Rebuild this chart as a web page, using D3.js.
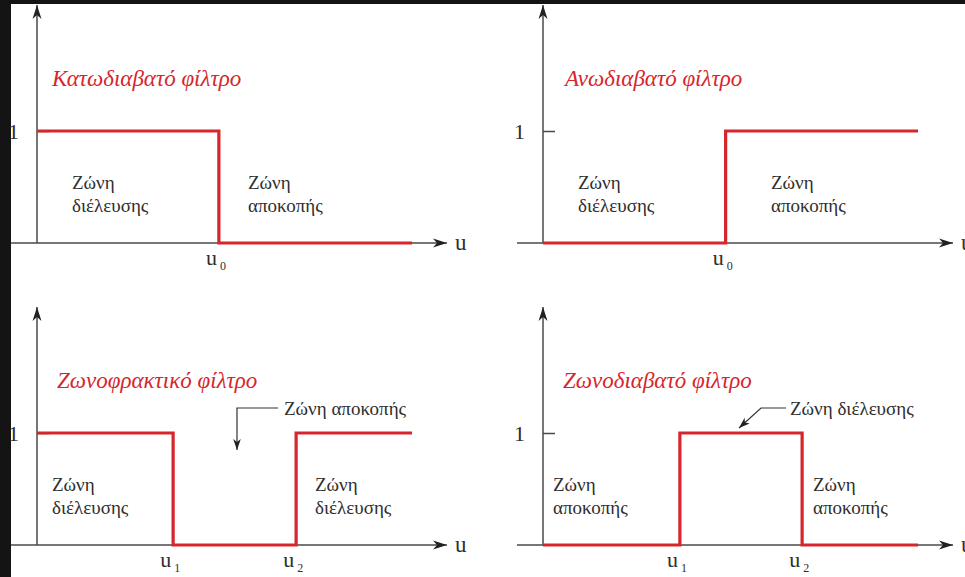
<!DOCTYPE html>
<html>
<head>
<meta charset="utf-8">
<script src="https://cdn.jsdelivr.net/npm/d3@7"></script>
<style>
  html, body { margin: 0; padding: 0; background: #fff; }
  svg { display: block; }
  text { font-family: "Liberation Serif", "DejaVu Serif", serif; fill: #2e2e2e; }
</style>
</head>
<body>
<div id="chart"></div>
<script>
// Τίτλοι φίλτρων
const titles = ["Κατωδιαβατό φίλτρο", "Ανωδιαβατό φίλτρο", "Ζωνοφρακτικό φίλτρο", "Ζωνοδιαβατό φίλτρο"];

// Απόκριση κάθε φίλτρου (u, κέρδος), σημεία αλλαγής
const lowpass  = [[0, 1], [4.85, 0], [10, 0]];
const highpass = [[0, 0], [4.87, 1], [10, 1]];
const bandstop = [[0, 1], [3.63, 0], [6.91, 1], [10, 1]];
const bandpass = [[0, 0], [3.65, 1], [6.91, 0], [10, 0]];
const responses = [lowpass, highpass, bandstop, bandpass];

// Δείκτες συχνοτήτων αποκοπής
const cutoffSubs = [["0"], ["0"], ["1", "2"], ["1", "2"]];

// Ετικέτες ζωνών (αριστερά, δεξιά)
const leftZones  = [["Ζώνη", "διέλευσης"], ["Ζώνη", "διέλευσης"], ["Ζώνη", "διέλευσης"], ["Ζώνη", "αποκοπής"]];
const rightZones = [["Ζώνη", "αποκοπής"], ["Ζώνη", "αποκοπής"], ["Ζώνη", "διέλευσης"], ["Ζώνη", "αποκοπής"]];
const callouts   = [null, null, "Ζώνη αποκοπής", "Ζώνη διέλευσης"];

const yTicks = [1];
const uMax = 10;

// διάταξη
const W = 965, H = 577;
const origins = [[37, 243], [543, 243], [37, 545], [543, 545]];
const titleDx = [15, 22, 20, 20];
const leftDx  = [35, 35, 15, 10];
const rightDx = [211, 228, 278, 270];
const red = "#d6262c";

const svg = d3.select("#chart").append("svg")
  .attr("width", W).attr("height", H);

// μαύρο περίγραμμα της εικόνας
svg.append("rect").attr("x", 0).attr("y", 0).attr("width", W).attr("height", 4).attr("fill", "#141414");
svg.append("rect").attr("x", 0).attr("y", 0).attr("width", 11).attr("height", H).attr("fill", "#141414");

const defs = svg.append("defs");
defs.append("marker").attr("id", "axArrow")
  .attr("markerUnits", "userSpaceOnUse")
  .attr("viewBox", "-15 -6 16 12")
  .attr("refX", 0).attr("refY", 0)
  .attr("markerWidth", 16).attr("markerHeight", 12)
  .attr("orient", "auto")
  .append("path").attr("d", "M0,0 L-14,-4.5 L-10,0 L-14,4.5 Z").attr("fill", "#222");
defs.append("marker").attr("id", "smArrow")
  .attr("markerUnits", "userSpaceOnUse")
  .attr("viewBox", "-12 -5 13 10")
  .attr("refX", 0).attr("refY", 0)
  .attr("markerWidth", 13).attr("markerHeight", 10)
  .attr("orient", "auto")
  .append("path").attr("d", "M0,0 L-11,-3.8 L-8,0 L-11,3.8 Z").attr("fill", "#222");

responses.forEach((data, i) => {
  const [ox, oy] = origins[i];
  const x = d3.scaleLinear().domain([0, uMax]).range([ox, ox + 375]);
  const y = d3.scaleLinear().domain([0, 1]).range([oy, oy - 112]);
  const g = svg.append("g");

  // άξονες
  g.append("line")
    .attr("x1", ox - 26).attr("y1", oy).attr("x2", ox + 410).attr("y2", oy)
    .attr("stroke", "#4a4a4a").attr("stroke-width", 1.5)
    .attr("marker-end", "url(#axArrow)");
  g.append("line")
    .attr("x1", ox).attr("y1", oy).attr("x2", ox).attr("y2", oy - 238)
    .attr("stroke", "#4a4a4a").attr("stroke-width", 1.5)
    .attr("marker-end", "url(#axArrow)");

  g.append("text")
    .attr("x", ox + 418).attr("y", oy + 7)
    .attr("font-size", 23).text("u");

  // σημάδι στο 1
  const yAxis = d3.axisLeft(y).tickValues(yTicks)
    .tickSizeInner(-12).tickSizeOuter(0).tickPadding(18)
    .tickFormat(d3.format("d"));
  const ya = g.append("g").attr("transform", `translate(${ox},0)`).call(yAxis);
  ya.select(".domain").remove();
  ya.selectAll(".tick line").attr("stroke", "#4a4a4a").attr("stroke-width", 1.5);
  ya.selectAll(".tick text")
    .attr("font-family", "Liberation Serif").attr("font-size", 22)
    .attr("fill", "#2e2e2e").attr("dy", "0.34em");

  // καμπύλη απόκρισης
  const line = d3.line().x(d => x(d[0])).y(d => y(d[1])).curve(d3.curveStepAfter);
  g.append("path").datum(data)
    .attr("d", line)
    .attr("fill", "none").attr("stroke", red).attr("stroke-width", 3.2)
    .attr("stroke-linejoin", "miter");

  // ετικέτες u0 / u1 / u2
  const cuts = data.slice(1, -1).map(d => d[0]);
  cuts.forEach((c, k) => {
    g.append("text")
      .attr("x", x(c) - 2).attr("y", oy + 22)
      .attr("text-anchor", "end").attr("font-size", 22).text("u");
    g.append("text")
      .attr("x", x(c) + 1).attr("y", oy + 27)
      .attr("font-size", 12).text(cutoffSubs[i][k]);
  });

  // τίτλος
  g.append("text")
    .attr("x", ox + titleDx[i]).attr("y", y(1) - 45)
    .attr("font-style", "italic").attr("font-size", 23)
    .style("fill", red).text(titles[i]);

  // ετικέτες ζωνών
  [[leftZones[i], leftDx[i]], [rightZones[i], rightDx[i]]].forEach(([lines, dx]) => {
    const t = g.append("text").attr("x", ox + dx).attr("y", y(1) + 58).attr("font-size", 19);
    lines.forEach((s, j) => {
      t.append("tspan").attr("x", ox + dx).attr("dy", j === 0 ? 0 : 23).text(s);
    });
  });

  // επεξηγήσεις με βέλος
  if (callouts[i]) {
    const ty = y(1) - 18;
    g.append("text").attr("x", ox + 247).attr("y", ty).attr("font-size", 19).text(callouts[i]);
    const pts = i === 2
      ? [[ox + 241, ty - 7], [ox + 200, ty - 7], [ox + 200, oy - 95]]
      : [[ox + 243, ty - 7], [ox + 218, ty - 7], [ox + 196, y(1) - 5]];
    g.append("path")
      .attr("d", d3.line()(pts))
      .attr("fill", "none").attr("stroke", "#333").attr("stroke-width", 1.2)
      .attr("marker-end", "url(#smArrow)");
  }
});
</script>
</body>
</html>
